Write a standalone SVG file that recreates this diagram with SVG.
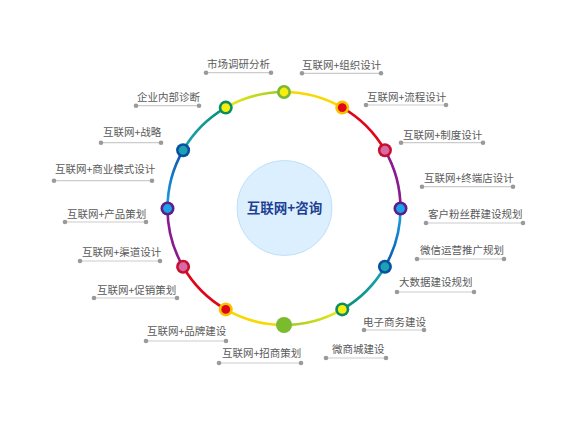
<svg xmlns="http://www.w3.org/2000/svg" width="576" height="432" viewBox="0 0 576 432">
<defs>
<style>
.lbl{font-family:"Noto Sans CJK SC","Liberation Sans",sans-serif;font-size:10.5px;fill:#5a5a5a}
.ul{stroke:#cccccc;stroke-width:1.2;fill:none}
.dot{fill:#9a9a9a}
.seg{fill:none;stroke-width:2.6;stroke-linecap:round}
</style>
<linearGradient id="gBlueR" gradientUnits="userSpaceOnUse" x1="400.5" y1="208.5" x2="384.9" y2="266.75"><stop offset="0" stop-color="#1aa3e8"/><stop offset="1" stop-color="#0b55aa"/></linearGradient>
<linearGradient id="gTealR" gradientUnits="userSpaceOnUse" x1="384.9" y1="266.75" x2="342.25" y2="309.4"><stop offset="0" stop-color="#1aa3b8"/><stop offset="1" stop-color="#0a9070"/></linearGradient>
<linearGradient id="gYgR" gradientUnits="userSpaceOnUse" x1="342.25" y1="309.4" x2="284" y2="325"><stop offset="0" stop-color="#f0ea10"/><stop offset="1" stop-color="#9cc82a"/></linearGradient>
<linearGradient id="gBlueL" gradientUnits="userSpaceOnUse" x1="167.5" y1="208.5" x2="183.1" y2="150.25"><stop offset="0" stop-color="#1aa3e8"/><stop offset="1" stop-color="#0b55aa"/></linearGradient>
<linearGradient id="gTealL" gradientUnits="userSpaceOnUse" x1="183.1" y1="150.25" x2="225.75" y2="107.6"><stop offset="0" stop-color="#1aa3b8"/><stop offset="1" stop-color="#0a9070"/></linearGradient>
<linearGradient id="gYgL" gradientUnits="userSpaceOnUse" x1="225.75" y1="107.6" x2="284" y2="92"><stop offset="0" stop-color="#f0ea10"/><stop offset="1" stop-color="#9cc82a"/></linearGradient>
</defs>
<rect width="576" height="432" fill="#ffffff"/>

<g id="center">
<circle cx="284.5" cy="208" r="47.5" fill="#dcefff" stroke="#bfe0f8" stroke-width="1"/>
<text x="284.5" y="213" text-anchor="middle" font-family="Noto Sans CJK SC, Liberation Sans, sans-serif" font-size="13.5" font-weight="bold" fill="#1d3f94">互联网+咨询</text>
</g>

<g id="connectors">
<path class="seg" stroke="#f8d800" d="M284,92 A116.5,116.5 0 0 1 342.25,107.6"/>
<path class="seg" stroke="#e0061a" d="M342.25,107.6 A116.5,116.5 0 0 1 384.9,150.25"/>
<path class="seg" stroke="#8a1a90" d="M384.9,150.25 A116.5,116.5 0 0 1 400.5,208.5"/>
<path class="seg" stroke="url(#gBlueR)" d="M400.5,208.5 A116.5,116.5 0 0 1 384.9,266.75"/>
<path class="seg" stroke="url(#gTealR)" d="M384.9,266.75 A116.5,116.5 0 0 1 342.25,309.4"/>
<path class="seg" stroke="url(#gYgR)" d="M342.25,309.4 A116.5,116.5 0 0 1 284,325"/>
<path class="seg" stroke="#f8d800" d="M284,325 A116.5,116.5 0 0 1 225.75,309.4"/>
<path class="seg" stroke="#e0061a" d="M225.75,309.4 A116.5,116.5 0 0 1 183.1,266.75"/>
<path class="seg" stroke="#8a1a90" d="M183.1,266.75 A116.5,116.5 0 0 1 167.5,208.5"/>
<path class="seg" stroke="url(#gBlueL)" d="M167.5,208.5 A116.5,116.5 0 0 1 183.1,150.25"/>
<path class="seg" stroke="url(#gTealL)" d="M183.1,150.25 A116.5,116.5 0 0 1 225.75,107.6"/>
<path class="seg" stroke="url(#gYgL)" d="M225.75,107.6 A116.5,116.5 0 0 1 284,92"/>
</g>

<g id="n-top"><circle cx="284" cy="92" r="7" fill="#7ab733"/><circle cx="284" cy="92" r="4.4" fill="#f5ee10"/></g>
<g id="n-60"><circle cx="342.25" cy="107.6" r="7" fill="#f8c200"/><circle cx="342.25" cy="107.6" r="4.4" fill="#e0061a"/></g>
<g id="n-30"><circle cx="384.9" cy="150.25" r="7" fill="#c8102e"/><circle cx="384.9" cy="150.25" r="4.4" fill="#d66aa6"/></g>
<g id="n-0"><circle cx="400.5" cy="208.5" r="7" fill="#5e1e8a"/><circle cx="400.5" cy="208.5" r="4.4" fill="#1aa3e8"/></g>
<g id="n-m30"><circle cx="384.9" cy="266.75" r="7" fill="#0b4fa0"/><circle cx="384.9" cy="266.75" r="4.4" fill="#1aa3b5"/></g>
<g id="n-m60"><circle cx="342.25" cy="309.4" r="7" fill="#0a8d5f"/><circle cx="342.25" cy="309.4" r="4.4" fill="#f5ee10"/></g>
<g id="n-bottom"><circle cx="284" cy="325" r="8" fill="#7bbb2e"/></g>
<g id="n-m120"><circle cx="225.75" cy="309.4" r="7" fill="#f8c200"/><circle cx="225.75" cy="309.4" r="4.4" fill="#e0061a"/></g>
<g id="n-m150"><circle cx="183.1" cy="266.75" r="7" fill="#c8102e"/><circle cx="183.1" cy="266.75" r="4.4" fill="#d66aa6"/></g>
<g id="n-180"><circle cx="167.5" cy="208.5" r="7" fill="#5e1e8a"/><circle cx="167.5" cy="208.5" r="4.4" fill="#1aa3e8"/></g>
<g id="n-150"><circle cx="183.1" cy="150.25" r="7" fill="#0b4fa0"/><circle cx="183.1" cy="150.25" r="4.4" fill="#1aa3b5"/></g>
<g id="n-120"><circle cx="225.75" cy="107.6" r="7" fill="#0a8d5f"/><circle cx="225.75" cy="107.6" r="4.4" fill="#f5ee10"/></g>

<g id="l1"><text class="lbl" x="207" y="68">市场调研分析</text><line class="ul" x1="206" y1="72.7" x2="271" y2="72.7"/><circle class="dot" cx="206" cy="72.7" r="2.3"/><circle class="dot" cx="271" cy="72.7" r="2.3"/></g>
<g id="l2"><text class="lbl" x="137" y="101">企业内部诊断</text><line class="ul" x1="136" y1="105.7" x2="199" y2="105.7"/><circle class="dot" cx="136" cy="105.7" r="2.3"/><circle class="dot" cx="199" cy="105.7" r="2.3"/></g>
<g id="l3"><text class="lbl" x="103" y="136">互联网+战略</text><line class="ul" x1="101" y1="142.7" x2="161" y2="142.7"/><circle class="dot" cx="101" cy="142.7" r="2.3"/><circle class="dot" cx="161" cy="142.7" r="2.3"/></g>
<g id="l4"><text class="lbl" x="55" y="173">互联网+商业模式设计</text><line class="ul" x1="54" y1="180.7" x2="152" y2="180.7"/><circle class="dot" cx="54" cy="180.7" r="2.3"/><circle class="dot" cx="152" cy="180.7" r="2.3"/></g>
<g id="l5"><text class="lbl" x="302" y="69">互联网+组织设计</text><line class="ul" x1="302" y1="73.3" x2="381" y2="73.3"/><circle class="dot" cx="302" cy="73.3" r="2.3"/><circle class="dot" cx="381" cy="73.3" r="2.3"/></g>
<g id="l6"><text class="lbl" x="367" y="101">互联网+流程设计</text><line class="ul" x1="366" y1="105" x2="446" y2="105"/><circle class="dot" cx="366" cy="105" r="2.3"/><circle class="dot" cx="446" cy="105" r="2.3"/></g>
<g id="l7"><text class="lbl" x="403" y="139">互联网+制度设计</text><line class="ul" x1="401" y1="142.7" x2="483" y2="142.7"/><circle class="dot" cx="401" cy="142.7" r="2.3"/><circle class="dot" cx="483" cy="142.7" r="2.3"/></g>
<g id="l8"><text class="lbl" x="424" y="182">互联网+终端店设计</text><line class="ul" x1="422" y1="186.7" x2="513" y2="186.7"/><circle class="dot" cx="422" cy="186.7" r="2.3"/><circle class="dot" cx="513" cy="186.7" r="2.3"/></g>
<g id="l9"><text class="lbl" x="67" y="218">互联网+产品策划</text><line class="ul" x1="65" y1="222" x2="146" y2="222"/><circle class="dot" cx="65" cy="222" r="2.3"/><circle class="dot" cx="146" cy="222" r="2.3"/></g>
<g id="l10"><text class="lbl" x="82" y="256">互联网+渠道设计</text><line class="ul" x1="80" y1="261" x2="160" y2="261"/><circle class="dot" cx="80" cy="261" r="2.3"/><circle class="dot" cx="160" cy="261" r="2.3"/></g>
<g id="l11"><text class="lbl" x="97" y="294">互联网+促销策划</text><line class="ul" x1="94" y1="298" x2="177" y2="298"/><circle class="dot" cx="94" cy="298" r="2.3"/><circle class="dot" cx="177" cy="298" r="2.3"/></g>
<g id="l12"><text class="lbl" x="147" y="335">互联网+品牌建设</text><line class="ul" x1="146" y1="341" x2="226" y2="341"/><circle class="dot" cx="146" cy="341" r="2.3"/><circle class="dot" cx="226" cy="341" r="2.3"/></g>
<g id="l13"><text class="lbl" x="222" y="357">互联网+招商策划</text><line class="ul" x1="219" y1="363" x2="301" y2="363"/><circle class="dot" cx="219" cy="363" r="2.3"/><circle class="dot" cx="301" cy="363" r="2.3"/></g>
<g id="l14"><text class="lbl" x="428" y="218">客户粉丝群建设规划</text><line class="ul" x1="426" y1="223" x2="523" y2="223"/><circle class="dot" cx="426" cy="223" r="2.3"/><circle class="dot" cx="523" cy="223" r="2.3"/></g>
<g id="l15"><text class="lbl" x="420" y="254">微信运营推广规划</text><line class="ul" x1="417" y1="259" x2="504" y2="259"/><circle class="dot" cx="417" cy="259" r="2.3"/><circle class="dot" cx="504" cy="259" r="2.3"/></g>
<g id="l16"><text class="lbl" x="399" y="286">大数据建设规划</text><line class="ul" x1="397" y1="292" x2="474" y2="292"/><circle class="dot" cx="397" cy="292" r="2.3"/><circle class="dot" cx="474" cy="292" r="2.3"/></g>
<g id="l17"><text class="lbl" x="363" y="326">电子商务建设</text><line class="ul" x1="364" y1="330" x2="424" y2="330"/><circle class="dot" cx="364" cy="330" r="2.3"/><circle class="dot" cx="424" cy="330" r="2.3"/></g>
<g id="l18"><text class="lbl" x="332" y="353">微商城建设</text><line class="ul" x1="326" y1="358" x2="386" y2="358"/><circle class="dot" cx="326" cy="358" r="2.3"/><circle class="dot" cx="386" cy="358" r="2.3"/></g>
</svg>
